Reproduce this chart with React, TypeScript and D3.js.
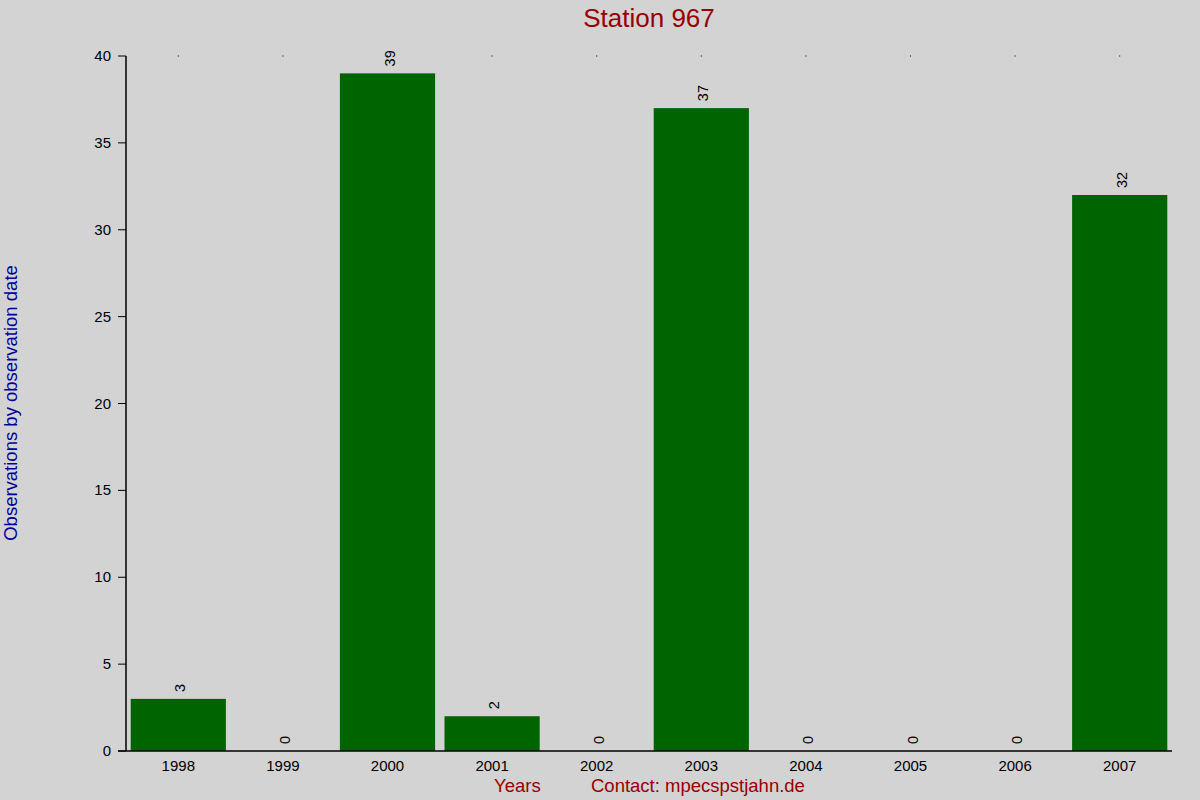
import React from "react";
import * as d3 from "d3";

const years = ["1998", "1999", "2000", "2001", "2002", "2003", "2004", "2005", "2006", "2007"];
const counts = [3, 0, 39, 2, 0, 37, 0, 0, 0, 32];
const yTicks = [0, 5, 10, 15, 20, 25, 30, 35, 40];

const W = 1200;
const H = 800;
const left = 126;
const right = 1172;
const top = 56;
const bottom = 751;
const font = "'Liberation Sans', Arial, sans-serif";
const red = "#990000";
const blue = "#000099";

export default function App() {
  const x = d3.scaleBand<string>().domain(years).range([left, right]).paddingInner(0.09).paddingOuter(0.045);
  const y = d3.scaleLinear().domain([0, 40]).range([bottom, top]);
  return (
    <svg width={W} height={H} style={{ position: "absolute", left: 0, top: 0 }} fontFamily={font}>
      <rect x={0} y={0} width={W} height={H} fill="#d3d3d3" />
      <text x={649} y={27} textAnchor="middle" fontSize={26} fill={red}>Station 967</text>
      {years.map((yr, i) => {
        const cx = x(yr)! + x.bandwidth() / 2;
        return (
          <g key={yr}>
            {counts[i] > 0 && (
              <rect x={x(yr)!} y={y(counts[i])} width={x.bandwidth()} height={y(0) - y(counts[i])} fill="#006400" />
            )}
            <text transform={`translate(${cx + 7},${y(counts[i]) - 7}) rotate(-90)`} fontSize={14.5} fill="#000">{counts[i]}</text>
            <rect x={cx - 0.5} y={top - 0.5} width={1} height={1} fill="#000" />
            <text x={cx} y={771} textAnchor="middle" fontSize={15} fill="#000">{yr}</text>
          </g>
        );
      })}
      <line x1={left} x2={left} y1={top} y2={bottom} stroke="#000" strokeWidth={1.5} />
      <line x1={118} x2={right} y1={bottom} y2={bottom} stroke="#000" strokeWidth={1.5} />
      {yTicks.map((t) => (
        <g key={t}>
          <line x1={118} x2={left} y1={y(t)} y2={y(t)} stroke="#000" strokeWidth={1} />
          <text x={111} y={y(t) + 5} textAnchor="end" fontSize={15} fill="#000">{t}</text>
        </g>
      ))}
      <text transform={`translate(17,403) rotate(-90)`} textAnchor="middle" fontSize={18.5} fill={blue}>Observations by observation date</text>
      <text x={494} y={792} fontSize={18.5} fill={red}>Years</text>
      <text x={591} y={792} fontSize={18.5} fill={red}>Contact: mpecspstjahn.de</text>
    </svg>
  );
}
